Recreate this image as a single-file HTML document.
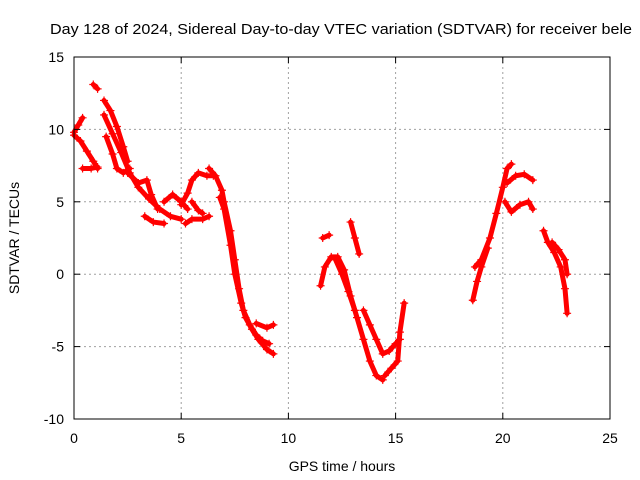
<!DOCTYPE html>
<html><head><meta charset="utf-8"><style>
body{margin:0;background:#fff}
svg{display:block;font-family:"Liberation Sans",sans-serif}
</style></head><body>
<svg id="chart" width="640" height="480">
<text x="50" y="34" font-size="15" textLength="582" lengthAdjust="spacingAndGlyphs">Day 128 of 2024, Sidereal Day-to-day VTEC variation (SDTVAR) for receiver bele</text>
<g id="grid"></g>
<g id="marks"></g>
<rect x="74" y="57" width="536" height="362" fill="none" stroke="#000"/>
<g id="ticks"></g>
<text x="342" y="471" font-size="14" text-anchor="middle">GPS time / hours</text>
<text transform="translate(19,238) rotate(-90)" font-size="14" text-anchor="middle">SDTVAR / TECUs</text>
</svg>
<script>
const xTicks=[0,5,10,15,20,25];
const yTicks=[-10,-5,0,5,10,15];
const tracks=[
[[0,9.8],[0.2,10.3],[0.4,10.8]],
[[0,9.6],[0.3,9.2],[0.6,8.5],[0.9,7.8],[1.1,7.3]],
[[0.4,7.3],[0.8,7.3],[1.1,7.4]],
[[0.9,13.1],[1.1,12.8]],
[[1.4,12],[1.7,11.3],[2.0,10.2],[2.3,8.8],[2.5,7.8]],
[[1.5,9.5],[1.8,8.3],[2.0,7.3],[2.3,7.0],[2.6,7.3]],
[[1.4,11],[1.8,9.7],[2.2,8.4],[2.6,7],[3,6],[3.5,5.2],[4,4.5],[4.5,4],[5,3.8]],
[[2.5,7],[3,6.3],[3.4,6.5],[3.6,5.5],[3.9,4.5]],
[[3.3,4],[3.7,3.6],[4.2,3.5]],
[[4.2,5],[4.6,5.5],[5,5],[5.3,4.5]],
[[5,4.8],[5.3,5.6],[5.5,6.5],[5.8,7],[6.2,6.8],[6.5,6.8]],
[[5.2,3.5],[5.5,3.8],[6,3.8],[6.3,4]],
[[5.5,5],[5.8,4.4],[6.0,4.2]],
[[6.3,7.3],[6.6,6.8],[6.9,5.8],[7.0,5],[7.3,3],[7.5,1],[7.7,-1],[7.9,-2.5],[8.2,-3.5],[8.5,-4.2],[8.8,-4.6],[9.1,-4.8]],
[[6.8,5.3],[7.0,4.5],[7.3,2],[7.5,0],[7.8,-2],[8.0,-3],[8.3,-3.8],[8.6,-4.5],[9.0,-5.2],[9.3,-5.5]],
[[8.5,-3.4],[9.0,-3.7],[9.3,-3.5]],
[[11.5,-0.8],[11.7,0.5],[12,1.2],[12.3,1.2],[12.6,0.3],[12.9,-1.5],[13.2,-3],[13.5,-4.5],[13.8,-6],[14.1,-7],[14.4,-7.3]],
[[11.6,2.5],[11.9,2.7]],
[[12.2,1],[12.5,0],[12.8,-1.2],[13.1,-2.5]],
[[12.9,3.6],[13.1,2.5],[13.3,1.4]],
[[13.5,-2.5],[13.8,-3.5],[14.1,-4.5],[14.4,-5.5],[14.7,-5.3],[15.0,-4.8],[15.2,-4.5]],
[[14.5,-7],[14.8,-6.5],[15.1,-6],[15.2,-4],[15.4,-2]],
[[18.6,-1.8],[18.8,-0.5],[19.0,0.5],[19.3,1.8]],
[[18.7,0.5],[19.0,1],[19.4,2.5],[19.7,4.2],[20.0,6],[20.2,7.3],[20.4,7.6]],
[[20.1,5],[20.4,4.3],[20.8,4.8],[21.2,5],[21.4,4.5]],
[[20.2,6.3],[20.6,6.8],[21.0,6.9],[21.4,6.5]],
[[21.9,3],[22.1,2.2],[22.4,1.5],[22.7,0.5],[22.9,-1],[23.0,-2.7]],
[[22.3,2.2],[22.6,1.7],[22.9,1],[23.0,0]]
];
const NS="http://www.w3.org/2000/svg";
const X0=74,X1=610,Y0=419,Y1=57;
const sx=v=>X0+(v-0)/25*(X1-X0);
const sy=v=>Y0-(v+10)/25*(Y0-Y1);
function mk(t,a,p){const e=document.createElementNS(NS,t);for(const k in a)e.setAttribute(k,a[k]);p.appendChild(e);return e;}
const grid=document.getElementById('grid'),ticks=document.getElementById('ticks'),marks=document.getElementById('marks');
xTicks.forEach(v=>{
  const x=sx(v);
  if(v>0&&v<25){const g=mk('line',{x1:x,x2:x,y1:Y1,y2:Y0,stroke:'#a0a0a0','stroke-dasharray':'2,3'},grid);
  
  }
  mk('line',{x1:x,x2:x,y1:Y0,y2:Y0-6,stroke:'#000'},ticks);
  mk('line',{x1:x,x2:x,y1:Y1,y2:Y1+6,stroke:'#000'},ticks);
  const t=mk('text',{x:x,y:Y0+24,'font-size':14,'text-anchor':'middle'},ticks);t.textContent=v;
  
  
});
yTicks.forEach(v=>{
  const y=sy(v);
  if(v>-10&&v<15){const g=mk('line',{x1:X0,x2:X1,y1:y,y2:y,stroke:'#a0a0a0','stroke-dasharray':'2,3'},grid);
  
  }
  mk('line',{x1:X0,x2:X0+6,y1:y,y2:y,stroke:'#000'},ticks);
  mk('line',{x1:X1,x2:X1-6,y1:y,y2:y,stroke:'#000'},ticks);
  const t=mk('text',{x:X0-10,y:y+5,'font-size':14,'text-anchor':'end'},ticks);t.textContent=v;
  
  
});
tracks.forEach(tr=>{
  const pl=mk('polyline',{points:tr.map(p=>sx(p[0])+','+sy(p[1])).join(' '),fill:'none',stroke:'#f00','stroke-width':5,'stroke-linejoin':'round','stroke-linecap':'round'},marks);
  
  
  tr.forEach(p=>{
    const x=sx(p[0]),y=sy(p[1]);
    const m=mk('path',{d:`M${x-4},${y}h8M${x},${y-4}v8`,stroke:'#f00','stroke-width':1.2},marks);
    
    
  });
});
</script>
</body></html>
